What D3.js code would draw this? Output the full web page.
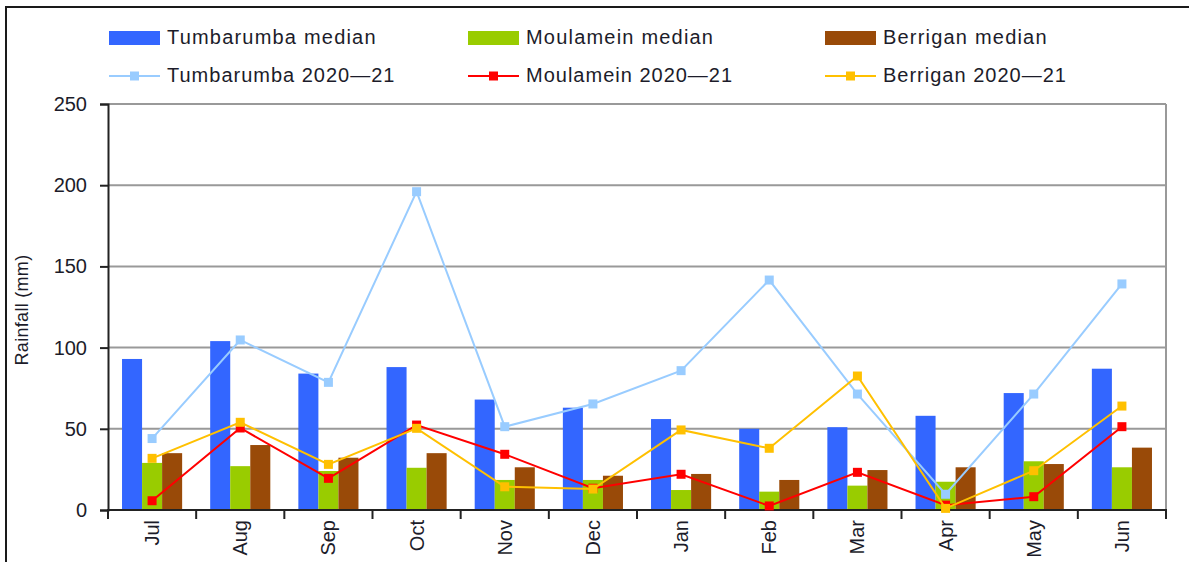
<!DOCTYPE html>
<html>
<head>
<meta charset="utf-8">
<script src="https://cdn.jsdelivr.net/npm/d3@7"></script>
<style>
  body { margin: 0; background: #fff; }
  svg { display: block; font-family: "Liberation Sans", Arial, sans-serif; }
</style>
</head>
<body>
<div class="chart"></div>
<script>
const months = ["Jul", "Aug", "Sep", "Oct", "Nov", "Dec", "Jan", "Feb", "Mar", "Apr", "May", "Jun"];

// monthly medians (bars)
const tumbarumbaMedian = [93, 104, 84, 88, 68, 63, 56, 50, 51, 58, 72, 87];
const moulameinMedian  = [29, 27, 24, 26, 18.5, 18.5, 12.3, 11.3, 15, 17.4, 30, 26.3];
const berriganMedian   = [35, 40, 32.2, 35, 26.3, 21.1, 22.2, 18.5, 24.6, 26.3, 28.3, 38.4];

// 2020-21 season (lines)
const tumbarumba2021 = [44, 104.7, 78.6, 196, 51.3, 65.3, 85.8, 141.6, 71.4, 9.7, 71.4, 139.2];
const moulamein2021  = [5.7, 50.5, 19.5, 52.3, 34.3, 13.4, 22, 2.5, 23.2, 3, 8.2, 51.3];
const berrigan2021   = [31.8, 54, 28.1, 50.3, 14.3, 12.9, 49.3, 38, 82.5, 1, 24.2, 64];

const yTicks = [0, 50, 100, 150, 200, 250];

const barSeries = [
  { name: "Tumbarumba median", values: tumbarumbaMedian, color: "#3366ff" },
  { name: "Moulamein median", values: moulameinMedian, color: "#99cc00" },
  { name: "Berrigan median", values: berriganMedian, color: "#994a08" }
];
const lineSeries = [
  { name: "Tumbarumba 2020\u201421", values: tumbarumba2021, color: "#99ccff" },
  { name: "Moulamein 2020\u201421", values: moulamein2021, color: "#ff0000" },
  { name: "Berrigan 2020\u201421", values: berrigan2021, color: "#ffc000" }
];

const width = 1189, height = 562;
const plot = { left: 108, right: 1166, top: 104, bottom: 510 };
const ink = "#1c1c2a";

const svg = d3.select(".chart").append("svg")
  .attr("width", width)
  .attr("height", height);

// outer frame (right/bottom edges fall outside the picture)
svg.append("rect")
  .attr("x", 6).attr("y", 7)
  .attr("width", width + 20).attr("height", height + 20)
  .attr("fill", "none").attr("stroke", "#1a1a1a").attr("stroke-width", 2);

const x0 = d3.scaleBand().domain(months).range([plot.left, plot.right]);
const x1 = d3.scaleBand().domain(barSeries.map(d => d.name))
  .range([0, x0.bandwidth()]).paddingOuter(0.7);
const y = d3.scaleLinear().domain([0, 250]).range([plot.bottom, plot.top]);

// gridlines
svg.append("g")
  .selectAll("line")
  .data(yTicks.filter(t => t > 0))
  .join("line")
  .attr("x1", plot.left).attr("x2", plot.right)
  .attr("y1", d => y(d)).attr("y2", d => y(d))
  .attr("stroke", "#999").attr("stroke-width", 2);

svg.append("line")
  .attr("x1", plot.right).attr("x2", plot.right)
  .attr("y1", plot.top).attr("y2", plot.bottom)
  .attr("stroke", "#999").attr("stroke-width", 2);

// bars
barSeries.forEach(s => {
  svg.append("g")
    .selectAll("rect")
    .data(s.values)
    .join("rect")
    .attr("x", (d, i) => x0(months[i]) + x1(s.name))
    .attr("y", d => y(d))
    .attr("width", x1.bandwidth())
    .attr("height", d => y(0) - y(d))
    .attr("fill", s.color);
});

// y axis
const yAxis = svg.append("g")
  .attr("transform", `translate(${plot.left},0)`)
  .call(d3.axisLeft(y).tickValues(yTicks).tickSize(8).tickPadding(13));
yAxis.select(".domain").attr("stroke", "#222").attr("stroke-width", 2);
yAxis.selectAll(".tick line").attr("stroke", "#222").attr("stroke-width", 2);
yAxis.selectAll("text")
  .attr("font-size", 20).attr("fill", ink)
  .attr("font-family", "Liberation Sans, Arial, sans-serif");

// x axis: ticks at category boundaries
const xg = svg.append("g");
xg.append("line")
  .attr("x1", plot.left - 1).attr("x2", plot.right + 1)
  .attr("y1", y(0)).attr("y2", y(0))
  .attr("stroke", "#222").attr("stroke-width", 2);
xg.selectAll(".bt")
  .data(months.concat(["end"]))
  .join("line")
  .attr("class", "bt")
  .attr("x1", (d, i) => i < months.length ? x0(d) : plot.right)
  .attr("x2", (d, i) => i < months.length ? x0(d) : plot.right)
  .attr("y1", y(0)).attr("y2", y(0) + 9)
  .attr("stroke", "#222").attr("stroke-width", 2);
xg.selectAll("text")
  .data(months)
  .join("text")
  .attr("transform", d => `translate(${x0(d) + x0.bandwidth() / 2},${y(0) + 10}) rotate(-90)`)
  .attr("text-anchor", "end")
  .attr("dy", "0.35em")
  .attr("font-size", 20)
  .attr("fill", ink)
  .text(d => d);

// y title
svg.append("text")
  .attr("transform", "translate(28,310) rotate(-90)")
  .attr("text-anchor", "middle")
  .attr("font-size", 18)
  .attr("letter-spacing", 0.3)
  .attr("fill", ink)
  .text("Rainfall (mm)");

// lines
const line = d3.line()
  .x((d, i) => x0(months[i]) + x0.bandwidth() / 2)
  .y(d => y(d));

lineSeries.forEach(s => {
  svg.append("path")
    .datum(s.values)
    .attr("d", line)
    .attr("fill", "none")
    .attr("stroke", s.color)
    .attr("stroke-width", 2);
  svg.append("g")
    .selectAll("rect")
    .data(s.values)
    .join("rect")
    .attr("x", (d, i) => x0(months[i]) + x0.bandwidth() / 2 - 4.5)
    .attr("y", d => y(d) - 4.5)
    .attr("width", 9).attr("height", 9)
    .attr("fill", s.color);
});

// legend
const legendX = [109, 468, 825];
const legend = svg.append("g");
barSeries.forEach((s, i) => {
  legend.append("rect")
    .attr("x", legendX[i]).attr("y", 31)
    .attr("width", 51).attr("height", 14)
    .attr("fill", s.color);
  legend.append("text")
    .attr("x", legendX[i] + 58).attr("y", 37)
    .attr("dy", "0.35em")
    .attr("font-size", 20)
    .attr("letter-spacing", 1.2)
    .attr("fill", ink)
    .text(s.name);
});
lineSeries.forEach((s, i) => {
  legend.append("line")
    .attr("x1", legendX[i]).attr("x2", legendX[i] + 51)
    .attr("y1", 76).attr("y2", 76)
    .attr("stroke", s.color).attr("stroke-width", 2);
  legend.append("rect")
    .attr("x", legendX[i] + 21).attr("y", 71.5)
    .attr("width", 9).attr("height", 9)
    .attr("fill", s.color);
  legend.append("text")
    .attr("x", legendX[i] + 58).attr("y", 75)
    .attr("dy", "0.35em")
    .attr("font-size", 20)
    .attr("letter-spacing", 1.0)
    .attr("fill", ink)
    .text(s.name);
});
</script>
</body>
</html>
